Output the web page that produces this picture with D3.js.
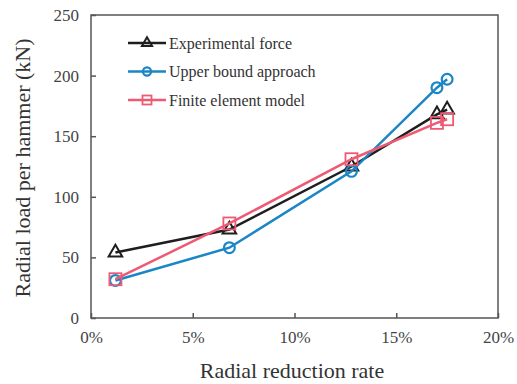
<!DOCTYPE html>
<html>
<head>
<meta charset="utf-8">
<script src="https://cdn.jsdelivr.net/npm/d3@7"></script>
<style>
body { margin: 0; background: #fff; }
text { font-family: "Liberation Serif", "Times New Roman", serif; fill: #333; }
</style>
</head>
<body>
<svg id="chart" width="517" height="384"></svg>
<script>
// data
var rates = [1.2, 6.8, 12.8, 17.0, 17.5]
var experimental = [54, 73, 125, 168, 172]
var upperBound = [31, 58, 121, 190, 197]
var finiteElement = [32, 78, 131, 161, 164]
var xTicks = [0, 5, 10, 15, 20]
var yTicks = [0, 50, 100, 150, 200, 250]
var seriesNames = ["Experimental force", "Upper bound approach", "Finite element model"]

var svg = d3.select("#chart")

var plotLeft = 91, plotRight = 498, plotTop = 15, plotBottom = 318

var x = d3.scaleLinear().domain([0, 20]).range([plotLeft, plotRight])
var y = d3.scaleLinear().domain([0, 250]).range([plotBottom, plotTop])

var series = [
  { name: seriesNames[0], values: experimental, color: "#1e1e1e", marker: "triangle" },
  { name: seriesNames[1], values: upperBound, color: "#1a86c6", marker: "circle" },
  { name: seriesNames[2], values: finiteElement, color: "#ee5a74", marker: "square" }
]

// frame
svg.append("rect")
  .attr("x", plotLeft).attr("y", plotTop)
  .attr("width", plotRight - plotLeft).attr("height", plotBottom - plotTop)
  .attr("fill", "none").attr("stroke", "#555").attr("stroke-width", 1.5)

// axes, ticks inside
var xAxis = svg.append("g")
  .attr("transform", "translate(0," + plotBottom + ")")
  .call(d3.axisBottom(x).tickValues(xTicks).tickSizeInner(-5).tickSizeOuter(0).tickPadding(13)
    .tickFormat(d => d + "%"))
var yAxis = svg.append("g")
  .attr("transform", "translate(" + plotLeft + ",0)")
  .call(d3.axisLeft(y).tickValues(yTicks).tickSizeInner(-5).tickSizeOuter(0).tickPadding(12))

xAxis.select(".domain").remove()
yAxis.select(".domain").remove()
svg.selectAll(".tick line").attr("stroke", "#555").attr("stroke-width", 1.5)
svg.selectAll(".tick text")
  .style("font-family", "'Liberation Serif', serif").style("font-size", "17px").style("fill", "#444")

// titles
svg.append("text")
  .attr("x", 292).attr("y", 378)
  .attr("text-anchor", "middle").attr("font-size", 22)
  .text("Radial reduction rate")
svg.append("text")
  .attr("transform", "translate(30,168) rotate(-90)")
  .attr("text-anchor", "middle").attr("font-size", 22)
  .text("Radial load per hammer (kN)")

function drawMarker(g, type, color, size) {
  if (type === "circle") {
    g.append("circle").attr("r", size * 0.45)
      .attr("fill", "none").attr("stroke", color).attr("stroke-width", 2.2)
  } else if (type === "square") {
    g.append("rect").attr("x", -size / 2).attr("y", -size / 2)
      .attr("width", size).attr("height", size)
      .attr("fill", "none").attr("stroke", color).attr("stroke-width", 1.8)
  } else {
    var s = d3.symbol().type(d3.symbolTriangle).size(size * size * 0.55)
    g.append("path").attr("d", s())
      .attr("fill", "none").attr("stroke", color).attr("stroke-width", 2)
  }
}

var line = d3.line()
  .x((d, i) => x(rates[i]))
  .y(d => y(d))

series.forEach(function (s) {
  svg.append("path")
    .datum(s.values)
    .attr("d", line)
    .attr("fill", "none")
    .attr("stroke", s.color)
    .attr("stroke-width", 2.5)
  s.values.forEach(function (v, i) {
    var g = svg.append("g").attr("transform", "translate(" + x(rates[i]) + "," + y(v) + ")")
    drawMarker(g, s.marker, s.color, 12)
  })
})

// legend
var legend = svg.append("g").attr("transform", "translate(128,43)")
series.forEach(function (s, i) {
  var row = legend.append("g").attr("transform", "translate(0," + (i * 28.5) + ")")
  row.append("line").attr("x1", 0).attr("x2", 38).attr("y1", 0).attr("y2", 0)
    .attr("stroke", s.color).attr("stroke-width", 2.5)
  drawMarker(row.append("g").attr("transform", "translate(19,0)"), s.marker, s.color, 9)
  row.append("text").attr("x", 41).attr("y", 5.5)
    .attr("font-size", 16).attr("fill", "#333")
    .text(s.name)
})
</script>
</body>
</html>
